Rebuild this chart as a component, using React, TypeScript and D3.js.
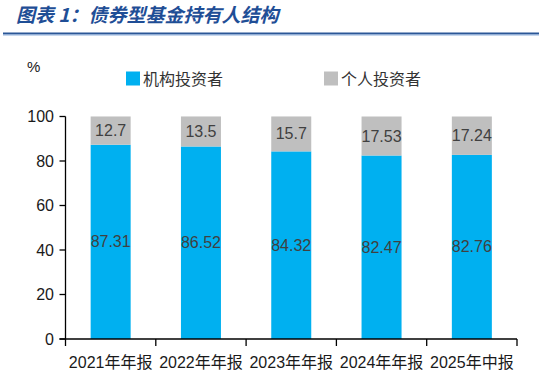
import React from "react";
import * as d3 from "d3";

const categories = ["2021年年报", "2022年年报", "2023年年报", "2024年年报", "2025年中报"];
const institutional = [87.31, 86.52, 84.32, 82.47, 82.76];
const individual = [12.7, 13.5, 15.7, 17.53, 17.24];
const institutionalLabels = ["87.31", "86.52", "84.32", "82.47", "82.76"];
const individualLabels = ["12.7", "13.5", "15.7", "17.53", "17.24"];
const yTicks = [0, 20, 40, 60, 80, 100];
const seriesNames = ["机构投资者", "个人投资者"];

const W = 540;
const H = 376;
const BLUE = "#00b0f0";
const GRAY = "#bfbfbf";
const LATIN = "'Liberation Sans', Arial, 'Noto Sans CJK SC', sans-serif";
const CJK = "'Noto Sans CJK SC', 'Liberation Sans', sans-serif";

export default function App() {
  const x = d3.scaleBand<string>().domain(categories).range([65.5, 517]).padding(0);
  const y = d3.scaleLinear().domain([0, 100]).range([339, 116.5]);
  const bw = x.bandwidth() * 0.443;

  return (
    <svg width={W} height={H} style={{ position: "absolute", left: 0, top: 0, background: "#fff" }}>
      <rect width={W} height={H} fill="#fff" />
      {/* Title */}
      <text
        x={16}
        y={22}
        fontFamily={CJK}
        fontSize={19}
        fontWeight="bold"
        fontStyle="italic"
        fill="#1f4e96"
      >
        图表 1：债券型基金持有人结构
      </text>
      <line x1={3} x2={539} y1={33.5} y2={33.5} stroke="#2b5797" strokeWidth={2} />
      <line x1={3} x2={539} y1={35} y2={35} stroke="#8fb0dc" strokeWidth={1} />

      {/* Unit */}
      <text x={27} y={72} fontFamily={LATIN} fontSize={15} fill="#1a1a1a">%</text>

      {/* Legend */}
      <rect x={126} y={71.5} width={14} height={14} fill={BLUE} />
      <text x={143} y={84.5} fontFamily={CJK} fontSize={16} fill="#333">{seriesNames[0]}</text>
      <rect x={324} y={71.5} width={14} height={14} fill={GRAY} />
      <text x={341} y={84.5} fontFamily={CJK} fontSize={16} fill="#333">{seriesNames[1]}</text>

      {/* Bars */}
      {categories.map((c, i) => {
        const cx = (x(c) as number) + x.bandwidth() / 2;
        const yInstTop = y(institutional[i]);
        const yIndTop = y(institutional[i] + individual[i]);
        return (
          <g key={c}>
            <rect x={cx - bw / 2} y={yInstTop} width={bw} height={y(0) - yInstTop} fill={BLUE} />
            <rect x={cx - bw / 2} y={yIndTop} width={bw} height={yInstTop - yIndTop} fill={GRAY} />
            <text
              x={cx}
              y={(yInstTop + y(0)) / 2}
              textAnchor="middle"
              dominantBaseline="central"
              fontFamily={LATIN}
              fontSize={16}
              fill="#404040"
            >
              {institutionalLabels[i]}
            </text>
            <text
              x={cx}
              y={(yIndTop + yInstTop) / 2}
              textAnchor="middle"
              dominantBaseline="central"
              fontFamily={LATIN}
              fontSize={16}
              fill="#404040"
            >
              {individualLabels[i]}
            </text>
          </g>
        );
      })}

      {/* Y axis */}
      <line x1={65.5} x2={65.5} y1={y(100)} y2={y(0)} stroke="#000" strokeWidth={1.3} />
      {yTicks.map((t) => (
        <g key={t}>
          <line x1={59.5} x2={65.5} y1={y(t)} y2={y(t)} stroke="#000" strokeWidth={1.3} />
          <text
            x={54}
            y={y(t)}
            textAnchor="end"
            dominantBaseline="central"
            fontFamily={LATIN}
            fontSize={16}
            fill="#1a1a1a"
          >
            {t}
          </text>
        </g>
      ))}

      {/* X axis */}
      <line x1={59.5} x2={517} y1={y(0)} y2={y(0)} stroke="#000" strokeWidth={1.3} />
      {categories.map((c) => (
        <line
          key={"t" + c}
          x1={x(c) as number}
          x2={x(c) as number}
          y1={y(0)}
          y2={y(0) + 7}
          stroke="#000"
          strokeWidth={1.3}
        />
      ))}
      <line x1={517} x2={517} y1={y(0)} y2={y(0) + 7} stroke="#000" strokeWidth={1.3} />
      {categories.map((c) => (
        <text
          key={"l" + c}
          x={(x(c) as number) + x.bandwidth() / 2}
          y={362}
          textAnchor="middle"
          dominantBaseline="central"
          fontFamily={LATIN}
          fontSize={16}
          fill="#1a1a1a"
        >
          {c}
        </text>
      ))}
    </svg>
  );
}
